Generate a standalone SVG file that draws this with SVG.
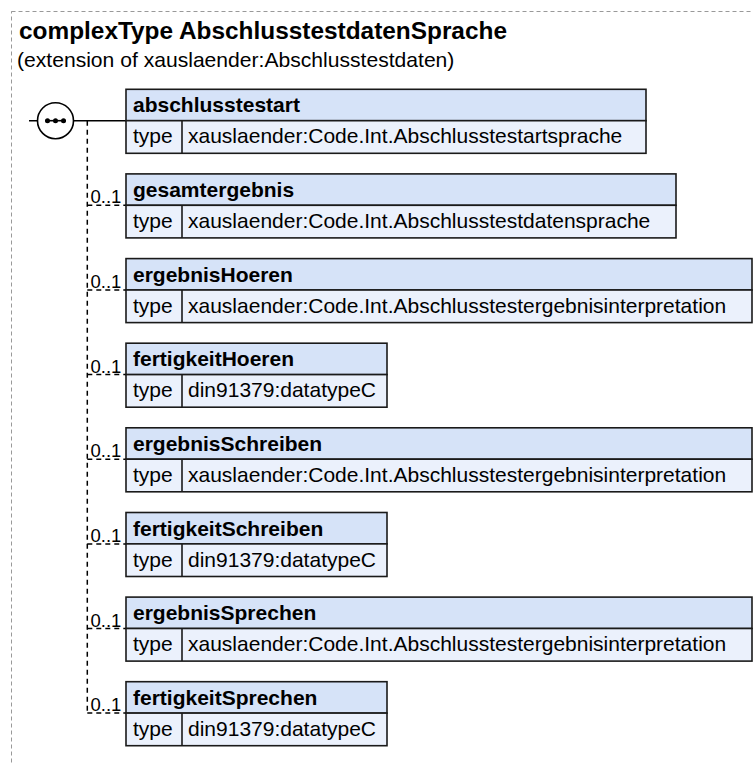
<svg xmlns="http://www.w3.org/2000/svg" width="753" height="764" viewBox="0 0 753 764">
<style>
text{font-family:"Liberation Sans",Arial,sans-serif;fill:#000}
.title{font-size:24.4px;font-weight:bold}
.sub{font-size:21.1px}
.name{font-size:21px;font-weight:bold}
.val{font-size:21px}
.occ{font-size:18.5px}
.hdr{fill:#d6e3f8;stroke:#1a1a1a;stroke-width:1.6}
.row{fill:#ebf1fc;stroke:#1a1a1a;stroke-width:1.6}
.sep{stroke:#1a1a1a;stroke-width:1.6}
.dash{fill:none;stroke:#000;stroke-width:1.5;stroke-dasharray:5,4}
.solid{fill:none;stroke:#000;stroke-width:1.5}
</style>
<rect x="11.5" y="11.5" width="900" height="900" fill="none" stroke="#999" stroke-width="1" stroke-dasharray="4,3"/>
<text class="title" x="19" y="39">complexType AbschlusstestdatenSprache</text>
<text class="sub" x="17" y="67">(extension of xauslaender:Abschlusstestdaten)</text>
<g id="connectors">
<line class="solid" x1="29" y1="120.7" x2="126" y2="120.7"/>
<line class="dash" x1="87.3" y1="120.7" x2="87.3" y2="713.1"/>
<line class="dash" x1="87.3" y1="205.3" x2="126" y2="205.3"/>
<line class="dash" x1="87.3" y1="290" x2="126" y2="290"/>
<line class="dash" x1="87.3" y1="374.6" x2="126" y2="374.6"/>
<line class="dash" x1="87.3" y1="459.2" x2="126" y2="459.2"/>
<line class="dash" x1="87.3" y1="543.9" x2="126" y2="543.9"/>
<line class="dash" x1="87.3" y1="628.5" x2="126" y2="628.5"/>
<line class="dash" x1="87.3" y1="713.1" x2="126" y2="713.1"/>
<text class="occ" x="90.5" y="203.3">0..1</text>
<text class="occ" x="90.5" y="288">0..1</text>
<text class="occ" x="90.5" y="372.6">0..1</text>
<text class="occ" x="90.5" y="457.2">0..1</text>
<text class="occ" x="90.5" y="541.9">0..1</text>
<text class="occ" x="90.5" y="626.5">0..1</text>
<text class="occ" x="90.5" y="711.1">0..1</text>
</g>
<g id="sequence">
<circle cx="55.5" cy="120.7" r="18" fill="#fff" stroke="#000" stroke-width="1.6"/>
<line x1="45" y1="120.7" x2="66" y2="120.7" stroke="#000" stroke-width="1.6"/>
<circle cx="47.5" cy="120.7" r="2.5"/>
<circle cx="55.5" cy="120.7" r="2.5"/>
<circle cx="63.5" cy="120.7" r="2.5"/>
</g>
<g id="abschlusstestart" transform="translate(0,89.3)">
<rect class="hdr" x="126" y="0" width="520" height="31.4"/>
<rect class="row" x="126" y="31.4" width="520" height="32.6"/>
<line class="sep" x1="182" y1="31.4" x2="182" y2="64"/>
<text class="name" x="133" y="23">abschlusstestart</text>
<text class="val" x="133" y="54">type</text>
<text class="val" x="188" y="54">xauslaender:Code.Int.Abschlusstestartsprache</text>
</g>
<g id="gesamtergebnis" transform="translate(0,173.9)">
<rect class="hdr" x="126" y="0" width="550" height="31.4"/>
<rect class="row" x="126" y="31.4" width="550" height="32.6"/>
<line class="sep" x1="182" y1="31.4" x2="182" y2="64"/>
<text class="name" x="133" y="23">gesamtergebnis</text>
<text class="val" x="133" y="54">type</text>
<text class="val" x="188" y="54">xauslaender:Code.Int.Abschlusstestdatensprache</text>
</g>
<g id="ergebnisHoeren" transform="translate(0,258.6)">
<rect class="hdr" x="126" y="0" width="626" height="31.4"/>
<rect class="row" x="126" y="31.4" width="626" height="32.6"/>
<line class="sep" x1="182" y1="31.4" x2="182" y2="64"/>
<text class="name" x="133" y="23">ergebnisHoeren</text>
<text class="val" x="133" y="54">type</text>
<text class="val" x="188" y="54">xauslaender:Code.Int.Abschlusstestergebnisinterpretation</text>
</g>
<g id="fertigkeitHoeren" transform="translate(0,343.2)">
<rect class="hdr" x="126" y="0" width="261" height="31.4"/>
<rect class="row" x="126" y="31.4" width="261" height="32.6"/>
<line class="sep" x1="182" y1="31.4" x2="182" y2="64"/>
<text class="name" x="133" y="23">fertigkeitHoeren</text>
<text class="val" x="133" y="54">type</text>
<text class="val" x="188" y="54">din91379:datatypeC</text>
</g>
<g id="ergebnisSchreiben" transform="translate(0,427.8)">
<rect class="hdr" x="126" y="0" width="626" height="31.4"/>
<rect class="row" x="126" y="31.4" width="626" height="32.6"/>
<line class="sep" x1="182" y1="31.4" x2="182" y2="64"/>
<text class="name" x="133" y="23">ergebnisSchreiben</text>
<text class="val" x="133" y="54">type</text>
<text class="val" x="188" y="54">xauslaender:Code.Int.Abschlusstestergebnisinterpretation</text>
</g>
<g id="fertigkeitSchreiben" transform="translate(0,512.5)">
<rect class="hdr" x="126" y="0" width="261" height="31.4"/>
<rect class="row" x="126" y="31.4" width="261" height="32.6"/>
<line class="sep" x1="182" y1="31.4" x2="182" y2="64"/>
<text class="name" x="133" y="23">fertigkeitSchreiben</text>
<text class="val" x="133" y="54">type</text>
<text class="val" x="188" y="54">din91379:datatypeC</text>
</g>
<g id="ergebnisSprechen" transform="translate(0,597.1)">
<rect class="hdr" x="126" y="0" width="626" height="31.4"/>
<rect class="row" x="126" y="31.4" width="626" height="32.6"/>
<line class="sep" x1="182" y1="31.4" x2="182" y2="64"/>
<text class="name" x="133" y="23">ergebnisSprechen</text>
<text class="val" x="133" y="54">type</text>
<text class="val" x="188" y="54">xauslaender:Code.Int.Abschlusstestergebnisinterpretation</text>
</g>
<g id="fertigkeitSprechen" transform="translate(0,681.7)">
<rect class="hdr" x="126" y="0" width="261" height="31.4"/>
<rect class="row" x="126" y="31.4" width="261" height="32.6"/>
<line class="sep" x1="182" y1="31.4" x2="182" y2="64"/>
<text class="name" x="133" y="23">fertigkeitSprechen</text>
<text class="val" x="133" y="54">type</text>
<text class="val" x="188" y="54">din91379:datatypeC</text>
</g>
</svg>
